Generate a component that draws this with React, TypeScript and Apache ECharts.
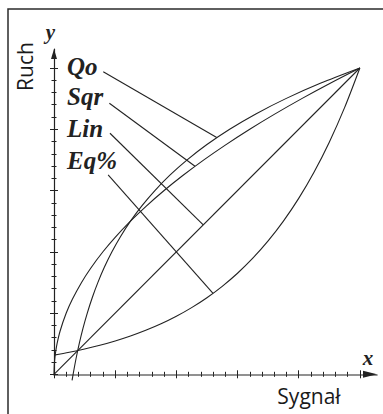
import React, { useEffect, useRef } from 'react';
import * as echarts from 'echarts';

// Equal-percentage curve
const eqX = [0, 0.05, 0.1, 0.15, 0.2, 0.25, 0.3, 0.35, 0.4, 0.45, 0.5, 0.55, 0.6, 0.65, 0.7, 0.75, 0.8, 0.85, 0.9, 0.95, 1];
const eqY = [0.0625, 0.0718, 0.0825, 0.0947, 0.1088, 0.125, 0.1436, 0.1649, 0.1895, 0.2177, 0.25, 0.2872, 0.3299, 0.3789, 0.4353, 0.5, 0.5743, 0.6598, 0.7579, 0.8706, 1];

// Quick-opening curve
const qoX = [0.0591, 0.0625, 0.0718, 0.0825, 0.0947, 0.1088, 0.125, 0.1436, 0.1649, 0.1895, 0.2177, 0.25, 0.2872, 0.3299, 0.3789, 0.4353, 0.5, 0.5743, 0.6598, 0.7579, 0.8706, 1];
const qoY = [-0.02, 0, 0.05, 0.1, 0.15, 0.2, 0.25, 0.3, 0.35, 0.4, 0.45, 0.5, 0.55, 0.6, 0.65, 0.7, 0.75, 0.8, 0.85, 0.9, 0.95, 1];

// Square-root curve
const sqrX = [0, 0.001, 0.0025, 0.005, 0.01, 0.02, 0.04, 0.06, 0.09, 0.12, 0.16, 0.2, 0.25, 0.3, 0.36, 0.42, 0.49, 0.56, 0.64, 0.72, 0.81, 0.9, 1];
const sqrY = [0, 0.0316, 0.05, 0.0707, 0.1, 0.1414, 0.2, 0.2449, 0.3, 0.3464, 0.4, 0.4472, 0.5, 0.5477, 0.6, 0.6481, 0.7, 0.7483, 0.8, 0.8485, 0.9, 0.9487, 1];

// Linear
const linX = [0, 1];
const linY = [0, 1];

// Leader lines: [label end, curve point]
const leaderQo = [[0.161, 0.988], [0.532, 0.773]];
const leaderSqr = [[0.181, 0.885], [0.461, 0.679]];
const leaderLin = [[0.183, 0.787], [0.488, 0.488]];
const leaderEq = [[0.177, 0.651], [0.52, 0.264]];

const labelNames = ['Qo', 'Sqr', 'Lin', 'Eq%'];

const minorTicks = [0, 0.04, 0.08, 0.12, 0.16, 0.2, 0.24, 0.28, 0.32, 0.36, 0.4, 0.44, 0.48, 0.52, 0.56, 0.6, 0.64, 0.68, 0.72, 0.76, 0.8, 0.84, 0.88, 0.92, 0.96, 1];
const majorTicks = [0, 0.2, 0.4, 0.6, 0.8, 1];

const INK = '#222222';

const pairs = (xs: number[], ys: number[]) => xs.map((x, i) => [x, ys[i]]);

function makeAxes(kind: 'x' | 'y') {
  const isX = kind === 'x';
  const base: any = {
    type: 'value',
    min: 0,
    max: isX ? 1.056 : 1.062,
    position: isX ? 'bottom' : 'left',
    axisLabel: { show: false },
    splitLine: { show: false },
  };
  const tickStyle = { color: INK, width: 1 };
  return [
    {
      ...base,
      axisLine: { show: true, onZero: false, lineStyle: { color: isX ? '#6e6e6e' : INK, width: isX ? 1.6 : 1.2 } },
      axisTick: { show: true, inside: false, length: 2.5, customValues: minorTicks, lineStyle: tickStyle },
    },
    {
      ...base,
      axisLine: {
        show: true,
        onZero: false,
        symbol: ['none', 'triangle'],
        symbolSize: isX ? [7, 14] : [6, 10],
        symbolOffset: isX ? [0, -7] : [0, -5],
        lineStyle: { color: INK, width: 0 },
      },
      axisTick: { show: true, inside: true, length: 2.5, customValues: minorTicks, lineStyle: tickStyle },
    },
    {
      ...base,
      axisLine: { show: false, onZero: false },
      axisTick: { show: true, inside: false, length: 4, customValues: majorTicks, lineStyle: tickStyle },
    },
    {
      ...base,
      axisLine: { show: false, onZero: false },
      axisTick: { show: true, inside: true, length: 4, customValues: majorTicks, lineStyle: tickStyle },
    },
  ];
}

const curveSeries = (name: string, data: number[][], smooth: number | boolean) => ({
  name,
  type: 'line',
  data,
  smooth,
  symbol: 'none',
  showSymbol: false,
  clip: false,
  silent: true,
  lineStyle: { color: INK, width: 1.1 },
  z: 3,
});

const labelY = [66.6, 96.6, 128.3, 160.9];

export default function App() {
  const ref = useRef<HTMLDivElement>(null);
  useEffect(() => {
    if (!ref.current) return;
    const chart = echarts.init(ref.current, null, { renderer: 'svg' });
    const serifBI = { fontFamily: '"Liberation Serif", "Times New Roman", serif', fontStyle: 'italic', fontWeight: 'bold' };
    const sans = { fontFamily: '"Open Sans", "Noto Sans", sans-serif', fontWeight: 'normal' };
    chart.setOption({
      animation: false,
      backgroundColor: '#ffffff',
      grid: { left: 54, top: 49, width: 323, height: 325.3, containLabel: false },
      xAxis: makeAxes('x'),
      yAxis: makeAxes('y'),
      series: [
        curveSeries('Qo', pairs(qoX, qoY), 0.3),
        curveSeries('Sqr', pairs(sqrX, sqrY), 0.3),
        curveSeries('Lin', pairs(linX, linY), false),
        curveSeries('Eq%', pairs(eqX, eqY), 0.3),
        curveSeries('leaderQo', leaderQo, false),
        curveSeries('leaderSqr', leaderSqr, false),
        curveSeries('leaderLin', leaderLin, false),
        curveSeries('leaderEq', leaderEq, false),
      ],
      graphic: [
        {
          type: 'rect',
          silent: true,
          shape: { x: 8, y: 9, width: 400, height: 420 },
          style: { fill: 'none', stroke: '#2b2b2b', lineWidth: 1.5 },
        },
        ...labelNames.map((t, i) => ({
          type: 'text',
          x: 67,
          y: labelY[i],
          style: { text: t, fontSize: 25, ...serifBI, fill: INK, align: 'left', verticalAlign: 'middle' },
        })),
        {
          type: 'text',
          x: 50.5,
          y: 31.6,
          style: { text: 'y', fontSize: 21, ...serifBI, fill: INK, align: 'center', verticalAlign: 'middle' },
        },
        {
          type: 'text',
          x: 368,
          y: 357.8,
          style: { text: 'x', fontSize: 21, ...serifBI, fill: INK, align: 'center', verticalAlign: 'middle' },
        },
        {
          type: 'text',
          x: 25,
          y: 66.5,
          rotation: Math.PI / 2,
          style: { text: 'Ruch', fontSize: 21, ...sans, fill: '#1a1a1a', align: 'center', verticalAlign: 'middle' },
        },
        {
          type: 'text',
          x: 309,
          y: 396.2,
          style: { text: 'Sygnał', fontSize: 21, ...sans, fill: '#1a1a1a', align: 'center', verticalAlign: 'middle' },
        },
      ],
    });
    return () => chart.dispose();
  }, []);
  return (
    <div
      ref={ref}
      style={{ position: 'fixed', left: 0, top: 0, width: 383, height: 414, background: '#fff' }}
    />
  );
}
